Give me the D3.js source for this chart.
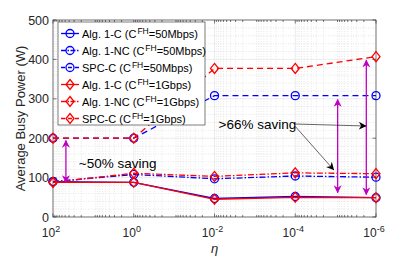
<!DOCTYPE html>
<html>
<head>
<meta charset="utf-8">
<script src="https://cdn.jsdelivr.net/npm/d3@7"></script>
<style>
  body { margin: 0; background: #fff; }
  text { font-family: "Liberation Sans", Arial, sans-serif; }
</style>
</head>
<body>
<div id="chart"></div>
<script>
// eta values (x axis, log scale, reversed)
const etas = [1e2, 1e0, 1e-2, 1e-4, 1e-6];
const xTicks = [2, 0, -2, -4, -6];
const yTicks = [0, 100, 200, 300, 400, 500];

// busy power (W)
const alg1C_50M = [90, 88, 47, 52, 49];
const alg1NC_50M = [90, 108, 97, 104, 101];
const spcC_50M = [200, 200, 308, 308, 308];
const alg1C_1G = [88, 88, 45, 50, 49];
const alg1NC_1G = [88, 111, 103, 112, 110];
const spcC_1G = [200, 200, 377, 377, 407];

const series = [
  { name: "Alg. 1-C (C", rate: "=50Mbps)", values: alg1C_50M, color: "#0000ff", dash: null, marker: "circle" },
  { name: "Alg. 1-NC (C", rate: "=50Mbps)", values: alg1NC_50M, color: "#0000ff", dash: "6,2,1.5,2", marker: "circle" },
  { name: "SPC-C (C", rate: "=50Mbps)", values: spcC_50M, color: "#0000ff", dash: "6,4", marker: "circle" },
  { name: "Alg. 1-C (C", rate: "=1Gbps)", values: alg1C_1G, color: "#ff0000", dash: null, marker: "diamond" },
  { name: "Alg. 1-NC (C", rate: "=1Gbps)", values: alg1NC_1G, color: "#ff0000", dash: "6,2,1.5,2", marker: "diamond" },
  { name: "SPC-C (C", rate: "=1Gbps)", values: spcC_1G, color: "#ff0000", dash: "6,4", marker: "diamond" },
];

const width = 415, height = 257;
const margin = { top: 20, right: 39, bottom: 40, left: 53 };

const svg = d3.select("#chart").append("svg")
  .attr("width", width).attr("height", height);

const x = d3.scaleLog().domain([1e2, 1e-6]).range([margin.left, width - margin.right]);
const y = d3.scaleLinear().domain([0, 500]).range([height - margin.bottom, margin.top]);
const x0 = margin.left, x1 = width - margin.right;
const y0 = height - margin.bottom, y1 = margin.top;

// minor grid
const minorX = [];
for (let e = -6; e < 2; e++) for (let m = 2; m < 10; m++) minorX.push(m * Math.pow(10, e));
const minorY = d3.range(20, 500, 20).filter(v => v % 100 !== 0);

const grid = svg.append("g");
grid.selectAll(".mx").data(minorX).join("line")
  .attr("x1", d => x(d)).attr("x2", d => x(d)).attr("y1", y0).attr("y2", y1)
  .attr("stroke", "#d8d8d8").attr("stroke-width", 0.6).attr("stroke-dasharray", "1,1.5");
grid.selectAll(".my").data(minorY).join("line")
  .attr("y1", d => y(d)).attr("y2", d => y(d)).attr("x1", x0).attr("x2", x1)
  .attr("stroke", "#d8d8d8").attr("stroke-width", 0.6).attr("stroke-dasharray", "1,1.5");
grid.selectAll(".gx").data(xTicks).join("line")
  .attr("x1", d => x(Math.pow(10, d))).attr("x2", d => x(Math.pow(10, d))).attr("y1", y0).attr("y2", y1)
  .attr("stroke", "#e4e4e4").attr("stroke-width", 0.7);
grid.selectAll(".gy").data(yTicks).join("line")
  .attr("y1", d => y(d)).attr("y2", d => y(d)).attr("x1", x0).attr("x2", x1)
  .attr("stroke", "#e4e4e4").attr("stroke-width", 0.7);

// ticks (inward, all four sides)
const axisColor = "#262626";
const ticks = svg.append("g").attr("stroke", axisColor).attr("stroke-width", 0.6);
xTicks.forEach(e => {
  const px = x(Math.pow(10, e));
  ticks.append("line").attr("x1", px).attr("x2", px).attr("y1", y0).attr("y2", y0 - 3.5);
  ticks.append("line").attr("x1", px).attr("x2", px).attr("y1", y1).attr("y2", y1 + 3.5);
});
minorX.forEach(d => {
  const px = x(d);
  ticks.append("line").attr("x1", px).attr("x2", px).attr("y1", y0).attr("y2", y0 - 2);
  ticks.append("line").attr("x1", px).attr("x2", px).attr("y1", y1).attr("y2", y1 + 2);
});
yTicks.forEach(v => {
  ticks.append("line").attr("x1", x0).attr("x2", x0 + 3.5).attr("y1", y(v)).attr("y2", y(v));
  ticks.append("line").attr("x1", x1).attr("x2", x1 - 3.5).attr("y1", y(v)).attr("y2", y(v));
});

// box
svg.append("rect").attr("x", x0).attr("y", y1).attr("width", x1 - x0).attr("height", y0 - y1)
  .attr("fill", "none").attr("stroke", axisColor).attr("stroke-width", 0.6);

// tick labels
svg.append("g").selectAll("text").data(yTicks).join("text")
  .attr("x", x0 - 4).attr("y", d => y(d) + 4.5)
  .attr("text-anchor", "end").attr("font-size", 12.5).attr("fill", axisColor)
  .text(d => d);

const xl = svg.append("g").selectAll("text").data(xTicks).join("text")
  .attr("x", d => x(Math.pow(10, d)) - 2).attr("y", 237)
  .attr("text-anchor", "middle").attr("font-size", 12).attr("fill", axisColor);
xl.append("tspan").text("10");
xl.append("tspan").attr("dy", -5).attr("font-size", 9).text(d => d < 0 ? "-" + (-d) : d);

// axis labels
svg.append("text").attr("x", (x0 + x1) / 2).attr("y", 253)
  .attr("text-anchor", "middle").attr("font-size", 13).attr("font-style", "italic")
  .attr("fill", axisColor).text("η");
svg.append("text").attr("transform", `translate(25,${(y0 + y1) / 2}) rotate(-90)`)
  .attr("text-anchor", "middle").attr("font-size", 13).attr("fill", axisColor)
  .text("Average Busy Power (W)");

// markers
function drawMarker(g, type, cx, cy, color) {
  if (type === "circle") {
    g.append("circle").attr("cx", cx).attr("cy", cy).attr("r", 4)
      .attr("fill", "none").attr("stroke", color).attr("stroke-width", 1.3);
  } else {
    const s = 5;
    g.append("path").attr("d", `M${cx},${cy - s}L${cx + s * 0.8},${cy}L${cx},${cy + s}L${cx - s * 0.8},${cy}Z`)
      .attr("fill", "none").attr("stroke", color).attr("stroke-width", 1.3);
  }
}

const line = d3.line().x((d, i) => x(etas[i])).y(d => y(d));
const plot = svg.append("g");
series.forEach(s => {
  plot.append("path").datum(s.values).attr("d", line)
    .attr("fill", "none").attr("stroke", s.color).attr("stroke-width", 1.3)
    .attr("stroke-dasharray", s.dash);
  s.values.forEach((v, i) => drawMarker(plot, s.marker, x(etas[i]), y(v), s.color));
});

// annotations
const magenta = "#c000c0";
const defs = svg.append("defs");
function head(id, color) {
  defs.append("marker").attr("id", id).attr("viewBox", "0 0 10 10").attr("refX", 9).attr("refY", 5)
    .attr("markerWidth", 8).attr("markerHeight", 8).attr("markerUnits", "userSpaceOnUse")
    .attr("orient", "auto-start-reverse")
    .append("path").attr("d", "M0,0L10,5L0,10L3,5Z").attr("fill", color);
}
head("hm", magenta);
head("hk", "#000");

const savingArrows = [
  { eta: Math.pow(10, 1.68), from: 194, to: 88 },
  { eta: Math.pow(10, -5.05), from: 298, to: 62 },
  { eta: Math.pow(10, -5.76), from: 398, to: 57 },
];
savingArrows.forEach(a => {
  svg.append("line").attr("x1", x(a.eta)).attr("x2", x(a.eta)).attr("y1", y(a.from)).attr("y2", y(a.to))
    .attr("stroke", magenta).attr("stroke-width", 1.3)
    .attr("marker-start", "url(#hm)").attr("marker-end", "url(#hm)");
});

svg.append("text").attr("x", x(Math.pow(10, 1.36))).attr("y", y(125))
  .attr("font-size", 13.5).attr("fill", "#000").text("~50% saving");
svg.append("text").attr("x", x(Math.pow(10, -2.1))).attr("y", y(224))
  .attr("font-size", 13.5).attr("fill", "#000").text(">66% saving");

const pointers = [
  { fx: Math.pow(10, -4.0), fy: 236, tx: Math.pow(10, -5.75), ty: 231 },
  { fx: Math.pow(10, -4.0), fy: 230, tx: Math.pow(10, -4.95), ty: 120 },
];
pointers.forEach(p => {
  svg.append("line").attr("x1", x(p.fx)).attr("y1", y(p.fy)).attr("x2", x(p.tx)).attr("y2", y(p.ty))
    .attr("stroke", "#000").attr("stroke-width", 0.6).attr("marker-end", "url(#hk)");
});

// legend
const lg = svg.append("g");
lg.append("rect").attr("x", 58).attr("y", 22).attr("width", 147).attr("height", 103)
  .attr("fill", "#fff").attr("stroke", axisColor).attr("stroke-width", 0.6);
series.forEach((s, i) => {
  const ly = 33.5 + i * 17;
  lg.append("line").attr("x1", 61).attr("x2", 79).attr("y1", ly).attr("y2", ly)
    .attr("stroke", s.color).attr("stroke-width", 1.3).attr("stroke-dasharray", s.dash ? (s.dash === "6,4" ? "4,3" : "5,1.5,1.5,1.5") : null);
  drawMarker(lg, s.marker, 70, ly, s.color);
  const t = lg.append("text").attr("x", 82).attr("y", ly + 4).attr("font-size", 11).attr("fill", "#000");
  t.append("tspan").text(s.name);
  t.append("tspan").attr("dx", 1).attr("dy", -4).attr("font-size", 8.5).text("FH");
  t.append("tspan").attr("dy", 4).text(s.rate);
});
</script>
</body>
</html>
